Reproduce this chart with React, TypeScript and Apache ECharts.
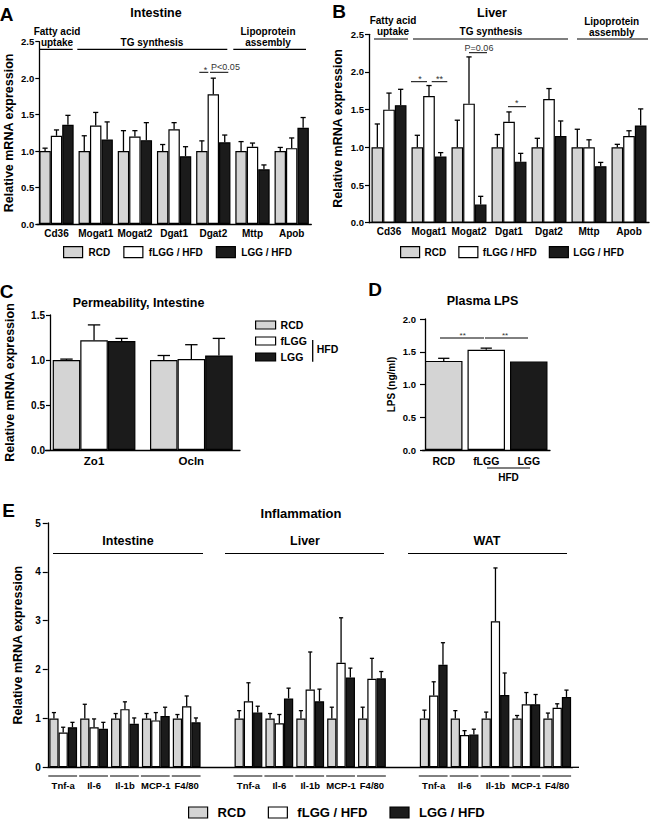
import React, { useEffect, useRef } from 'react';
import * as echarts from 'echarts';

const FONT = "'Liberation Sans', Arial, Helvetica, sans-serif";

// ---------- shared groups ----------
const groupNames = ['RCD', 'fLGG / HFD', 'LGG / HFD'];
const groupColors = ['#d4d4d4', '#ffffff', '#1b1b1b'];

// ---------- Panel A: Intestine lipid genes ----------
const lipidGenes = ['Cd36', 'Mogat1', 'Mogat2', 'Dgat1', 'Dgat2', 'Mttp', 'Apob'];
const intRCD = [1, 1, 1, 1, 1, 1, 1];
const intRCDsem = [0.04, 0.21, 0.28, 0.09, 0.14, 0.13, 0.05];
const intFLGG = [1.21, 1.35, 1.2, 1.3, 1.78, 1.06, 1.04];
const intFLGGsem = [0.08, 0.18, 0.08, 0.09, 0.22, 0.05, 0.14];
const intLGG = [1.36, 1.16, 1.15, 0.93, 1.12, 0.75, 1.32];
const intLGGsem = [0.13, 0.24, 0.24, 0.13, 0.1, 0.06, 0.14];

// ---------- Panel B: Liver lipid genes ----------
const livRCD = [1, 1, 1, 1, 1, 1, 1];
const livRCDsem = [0.31, 0.16, 0.36, 0.17, 0.12, 0.24, 0.04];
const livFLGG = [1.5, 1.68, 1.58, 1.34, 1.64, 1.0, 1.15];
const livFLGGsem = [0.22, 0.14, 0.62, 0.13, 0.14, 0.1, 0.07];
const livLGG = [1.56, 0.88, 0.24, 0.81, 1.15, 0.75, 1.29];
const livLGGsem = [0.21, 0.05, 0.11, 0.11, 0.2, 0.05, 0.22];

// ---------- Panel C: Permeability ----------
const permGenes = ['Zo1', 'Ocln'];
const permNames = ['RCD', 'fLGG', 'LGG'];
const permRCD = [1.0, 1.0];
const permRCDsem = [0.01, 0.05];
const permFLGG = [1.22, 1.01];
const permFLGGsem = [0.17, 0.16];
const permLGG = [1.21, 1.05];
const permLGGsem = [0.03, 0.19];

// ---------- Panel D: Plasma LPS ----------
const lpsGroups = ['RCD', 'fLGG', 'LGG'];
const lpsMean = [1.36, 1.53, 1.35];
const lpsSem = [0.04, 0.025, 0];

// ---------- Panel E: Inflammation ----------
const inflGenes = ['Tnf-a', 'Il-6', 'Il-1b', 'MCP-1', 'F4/80'];
const tissues = ['Intestine', 'Liver', 'WAT'];
const eIntRCD = [1, 1, 1, 1, 1];
const eIntRCDsem = [0.12, 0.29, 0.1, 0.1, 0.08];
const eIntFLGG = [0.71, 0.82, 1.19, 0.96, 1.25];
const eIntFLGGsem = [0.11, 0.17, 0.15, 0.16, 0.21];
const eIntLGG = [0.82, 0.79, 0.89, 1.05, 0.92];
const eIntLGGsem = [0.1, 0.13, 0.12, 0.18, 0.09];
const eLivRCD = [1, 1, 1, 1, 1];
const eLivRCDsem = [0.16, 0.1, 0.16, 0.23, 0.23];
const eLivFLGG = [1.35, 0.9, 1.59, 2.14, 1.81];
const eLivFLGGsem = [0.38, 0.18, 0.77, 0.92, 0.42];
const eLivLGG = [1.12, 1.41, 1.35, 1.84, 1.82];
const eLivLGGsem = [0.13, 0.21, 0.25, 0.19, 0.14];
const eWatRCD = [1, 1, 1, 1, 1];
const eWatRCDsem = [0.17, 0.16, 0.13, 0.06, 0.11];
const eWatFLGG = [1.47, 0.66, 2.99, 1.29, 1.22];
const eWatFLGGsem = [0.28, 0.09, 1.09, 0.24, 0.08];
const eWatLGG = [2.1, 0.67, 1.48, 1.29, 1.44];
const eWatLGGsem = [0.45, 0.11, 0.45, 0.2, 0.14];

// ---------- layout ----------
const LA = { left: 36.9, top: 41.7, width: 274.4, height: 182.3, gap: 0.125 };
const LB = { left: 369, top: 34.3, width: 280, height: 188.4, gap: 0.125 };
const LC = { left: 45.4, top: 315, width: 194.6, height: 135, gap: 0.15 };
const LD = { left: 422.5, top: 319, width: 127.5, height: 131, gap: 0.118 };
const LE = { left: 47.75, top: 523, width: 524.9, height: 244.3, gap: 0.1 };

function withGaps(a: (number | null)[], b: (number | null)[], c: (number | null)[]) {
  return [...a, null, ...b, null, ...c];
}

function buildOption() {
  const eCats: string[] = [];
  tissues.forEach((t, ti) => {
    if (ti > 0) eCats.push('gap' + ti);
    inflGenes.forEach((g) => eCats.push(t + ':' + g));
  });
  const eRCD = withGaps(eIntRCD, eLivRCD, eWatRCD);
  const eRCDsem = withGaps(eIntRCDsem, eLivRCDsem, eWatRCDsem);
  const eFLGG = withGaps(eIntFLGG, eLivFLGG, eWatFLGG);
  const eFLGGsem = withGaps(eIntFLGGsem, eLivFLGGsem, eWatFLGGsem);
  const eLGG = withGaps(eIntLGG, eLivLGG, eWatLGG);
  const eLGGsem = withGaps(eIntLGGsem, eLivLGGsem, eWatLGGsem);

  const grids = [LA, LB, LC, LD, LE].map((g) => ({
    left: g.left,
    top: g.top,
    width: g.width,
    height: g.height,
    containLabel: false,
  }));

  const xAxis = (gridIndex: number, data: string[], fontSize: number, margin: number, formatter?: any) => ({
    type: 'category',
    gridIndex,
    data,
    axisLine: { show: true, lineStyle: { color: '#000', width: 1.3 } },
    axisTick: { show: false },
    splitLine: { show: false },
    axisLabel: {
      interval: 0,
      fontSize,
      fontWeight: 'bold',
      color: '#000',
      margin,
      fontFamily: FONT,
      formatter,
    },
  });

  const yAxis = (gridIndex: number, max: number, interval: number, o: any) => ({
    type: 'value',
    gridIndex,
    min: 0,
    max,
    interval,
    offset: o.offset || 0,
    axisLine: { show: true, lineStyle: { color: '#000', width: 1.3 } },
    axisTick: { show: true, length: o.tick, lineStyle: { color: '#000', width: 1.2 } },
    splitLine: { show: false },
    axisLabel: {
      fontSize: o.fs,
      fontWeight: 'bold',
      color: '#000',
      margin: o.margin,
      fontFamily: FONT,
      formatter: (v: number) => (o.dec ? v.toFixed(1) : String(v)),
    },
    name: o.name,
    nameLocation: 'middle',
    nameGap: o.nameGap,
    nameTextStyle: { fontSize: o.nameSize, fontWeight: 'bold', color: '#000', fontFamily: FONT },
  });

  const bar = (name: string, color: string, data: any[], ai: number, gap: number) => ({
    type: 'bar',
    name,
    xAxisIndex: ai,
    yAxisIndex: ai,
    data,
    barGap: '0%',
    barCategoryGap: gap * 100 + '%',
    itemStyle: { color, borderColor: '#000', borderWidth: 1.2 },
    emphasis: { disabled: true },
    silent: true,
    z: 2,
  });

  const err = (
    means: (number | null)[],
    sems: (number | null)[],
    ai: number,
    slot: number,
    nSlots: number,
    gap: number,
    capRatio = 0.45
  ) => ({
    type: 'custom',
    name: 'err',
    xAxisIndex: ai,
    yAxisIndex: ai,
    silent: true,
    z: 5,
    encode: { x: 0, y: [1, 2] },
    data: means
      .map((m, i) => (m == null ? null : [i, m, m + (sems[i] || 0)]))
      .filter((d) => d !== null),
    renderItem: (params: any, api: any) => {
      const x = api.value(0);
      const m = api.value(1);
      const t = api.value(2);
      if (!(t > m)) return null;
      const p0 = api.coord([x, m]);
      const p1 = api.coord([x, t]);
      const band = api.size([1, 0])[0];
      const bw = (band * (1 - gap)) / nSlots;
      const cx = p0[0] + (slot - (nSlots - 1) / 2) * bw;
      const cap = bw * capRatio;
      const st = { stroke: '#000', lineWidth: 1.3 };
      return {
        type: 'group',
        children: [
          { type: 'line', shape: { x1: cx, y1: p0[1], x2: cx, y2: p1[1] }, style: st },
          { type: 'line', shape: { x1: cx - cap / 2, y1: p1[1], x2: cx + cap / 2, y2: p1[1] }, style: st },
        ],
      };
    },
  });

  const triple = (
    names: string[],
    means: (number | null)[][],
    sems: (number | null)[][],
    ai: number,
    gap: number
  ) => {
    const out: any[] = [];
    for (let k = 0; k < 3; k++) out.push(bar(names[k], groupColors[k], means[k], ai, gap));
    for (let k = 0; k < 3; k++) out.push(err(means[k], sems[k], ai, k, 3, gap));
    return out;
  };

  const series: any[] = [
    ...triple(groupNames, [intRCD, intFLGG, intLGG], [intRCDsem, intFLGGsem, intLGGsem], 0, LA.gap),
    ...triple(groupNames, [livRCD, livFLGG, livLGG], [livRCDsem, livFLGGsem, livLGGsem], 1, LB.gap),
    ...triple(permNames, [permRCD, permFLGG, permLGG], [permRCDsem, permFLGGsem, permLGGsem], 2, LC.gap),
    {
      ...bar(
        'Plasma LPS',
        groupColors[0],
        lpsMean.map((v, i) => ({ value: v, itemStyle: { color: groupColors[i] } })),
        3,
        LD.gap
      ),
    },
    err(lpsMean, lpsSem, 3, 0, 1, LD.gap, 0.3),
    ...triple(groupNames, [eRCD, eFLGG, eLGG], [eRCDsem, eFLGGsem, eLGGsem], 4, LE.gap),
  ];

  const yName = 'Relative mRNA expression';

  const legendBase = (extra: any) => ({
    icon: 'rect',
    padding: 0,
    selectedMode: false,
    itemStyle: { borderColor: '#000', borderWidth: 1.2 },
    ...extra,
  });

  // ---------- graphic annotations ----------
  const T = (x: number, y: number, text: string, size = 10, weight = 'bold', align = 'center', fill = '#000') => ({
    type: 'text',
    x,
    y,
    silent: true,
    style: {
      text,
      fontSize: size,
      fontWeight: weight,
      fontFamily: FONT,
      fill,
      align,
      verticalAlign: 'middle',
    },
  });
  const L = (x1: number, y1: number, x2: number, y2: number, w = 1.2, color = '#000') => ({
    type: 'line',
    silent: true,
    shape: { x1, y1, x2, y2 },
    style: { stroke: color, lineWidth: w },
  });

  const g: any[] = [];
  // panel letters
  g.push(T(6.5, 14, 'A', 19), T(339, 11, 'B', 19), T(6.5, 291, 'C', 19), T(375, 289, 'D', 19), T(8.5, 510, 'E', 19));
  // titles
  g.push(T(156, 12.5, 'Intestine', 12.5), T(492, 12.5, 'Liver', 12.5));
  g.push(T(138.5, 303, 'Permeability, Intestine', 12.5), T(482.5, 300.5, 'Plasma LPS', 12.5));
  g.push(T(301, 513, 'Inflammation', 13));
  // A section headers
  g.push(T(57, 31, 'Fatty acid'), T(57, 42, 'uptake'), T(152, 42, 'TG synthesis'), T(268, 31, 'Lipoprotein'), T(268, 42, 'assembly'));
  g.push(L(39.3, 49.3, 72.7, 49.3), L(77.3, 49.3, 227.3, 49.3), L(233.3, 49.3, 306, 49.3));
  // B section headers
  g.push(T(393, 20.7, 'Fatty acid'), T(393, 31.7, 'uptake'), T(491, 31.7, 'TG synthesis'), T(611.7, 21, 'Lipoprotein'), T(611.7, 32, 'assembly'));
  g.push(L(374, 39, 408, 39), L(413, 39, 568, 39), L(577, 39, 648, 39));
  // A significance
  g.push(L(199.3, 72.3, 208.3, 72.3, 1), L(210, 72.3, 228.3, 72.3, 1));
  g.push(T(205.5, 70, '*', 9, 'normal', 'center', '#333'), T(225.5, 66.7, 'P<0.05', 9, 'normal', 'center', '#333'));
  // B significance
  g.push(T(479, 48.3, 'P=0.06', 9, 'normal', 'center', '#333'), L(469, 52.7, 487, 52.7, 1));
  g.push(T(420, 78.5, '*', 9, 'normal', 'center', '#333'), L(411, 81.7, 427, 81.7, 1));
  g.push(T(439.5, 78.5, '**', 9, 'normal', 'center', '#333'), L(431.7, 81.7, 447.3, 81.7, 1));
  g.push(T(516.7, 103, '*', 9, 'normal', 'center', '#333'), L(508, 106.7, 526, 106.7, 1));
  // C HFD bracket
  g.push(L(312.7, 340, 312.7, 361.7, 1.3), T(316.7, 349, 'HFD', 10.5, 'bold', 'left'));
  // D significance and HFD
  g.push(L(440, 338, 484, 338, 1), L(485, 338, 528, 338, 1));
  g.push(T(462.7, 335.5, '**', 8, 'normal', 'center', '#333'), T(505, 335.5, '**', 8, 'normal', 'center', '#333'));
  g.push(L(487, 468, 530, 468, 1.2), T(508.5, 477.5, 'HFD', 10));
  // E tissue headers
  g.push(T(128, 541, 'Intestine', 12.5), T(305, 541, 'Liver', 12.5), T(487, 541, 'WAT', 12.5));
  g.push(L(53, 553.5, 203, 553.5), L(225, 553.5, 384, 553.5), L(408, 553.5, 567, 553.5));
  // E gene underlines
  const pitch = LE.width / eCats.length;
  eCats.forEach((c, i) => {
    if (c.startsWith('gap')) return;
    const x1 = LE.left + i * pitch + (pitch * LE.gap) / 2 - 1;
    const x2 = LE.left + (i + 1) * pitch - (pitch * LE.gap) / 2;
    g.push(L(x1, 776, x2, 776, 1));
  });
  // E x-axis line extension
  g.push(L(LE.left + LE.width, LE.top + LE.height, 579, LE.top + LE.height, 1.3));

  return {
    animation: false,
    backgroundColor: '#ffffff',
    textStyle: { fontFamily: FONT },
    grid: grids,
    xAxis: [
      xAxis(0, lipidGenes, 10, 4),
      xAxis(1, lipidGenes, 10, 4),
      xAxis(2, permGenes, 11.5, 5),
      xAxis(3, lpsGroups, 10.5, 5),
      xAxis(4, eCats, 9.5, 13, (v: string) => (v.startsWith('gap') ? '' : v.split(':')[1])),
    ],
    yAxis: [
      yAxis(0, 2.5, 0.5, { offset: -2.4, tick: 4, fs: 9.5, margin: 5, dec: true, name: yName, nameGap: 24, nameSize: 12.5 }),
      yAxis(1, 2.5, 0.5, { tick: 4, fs: 9.5, margin: 5, dec: true, name: yName, nameGap: 25, nameSize: 12.5 }),
      yAxis(2, 1.5, 0.5, { offset: -4.6, tick: 4, fs: 10, margin: 5, dec: true, name: yName, nameGap: 34, nameSize: 12.5 }),
      yAxis(3, 2.0, 0.5, { offset: -2.5, tick: 5, fs: 9.5, margin: 9, dec: true, name: 'LPS (ng/ml)', nameGap: 29, nameSize: 10 }),
      yAxis(4, 5, 1, { tick: 5, fs: 10, margin: 7, dec: false, name: yName, nameGap: 19, nameSize: 12.5 }),
    ],
    legend: [
      legendBase({
        data: groupNames,
        left: 63,
        top: 246,
        itemWidth: 19,
        itemHeight: 11,
        itemGap: 13,
        textStyle: { fontSize: 10, fontWeight: 'bold', color: '#000', fontFamily: FONT, padding: [0, 0, 0, 1] },
      }),
      legendBase({
        data: groupNames,
        left: 400,
        top: 246,
        itemWidth: 19,
        itemHeight: 11,
        itemGap: 12,
        textStyle: { fontSize: 10, fontWeight: 'bold', color: '#000', fontFamily: FONT },
      }),
      legendBase({
        data: permNames,
        orient: 'vertical',
        left: 255,
        top: 319,
        itemWidth: 20,
        itemHeight: 8,
        itemGap: 4,
        textStyle: { fontSize: 10.5, fontWeight: 'bold', color: '#000', fontFamily: FONT, lineHeight: 12 },
      }),
      legendBase({
        data: groupNames,
        left: 188,
        top: 806,
        itemWidth: 19,
        itemHeight: 11,
        itemGap: 22,
        textStyle: { fontSize: 13, fontWeight: 'bold', color: '#000', fontFamily: FONT, padding: [0, 0, 0, 5] },
      }),
    ],
    graphic: g,
    series,
  };
}

export default function App() {
  const ref = useRef<HTMLDivElement>(null);
  useEffect(() => {
    if (!ref.current) return;
    const chart = echarts.init(ref.current, null, { renderer: 'svg' });
    chart.setOption(buildOption() as any);
    return () => chart.dispose();
  }, []);
  return (
    <div
      ref={ref}
      style={{ position: 'fixed', left: 0, top: 0, width: 652, height: 819, background: '#fff' }}
    />
  );
}
